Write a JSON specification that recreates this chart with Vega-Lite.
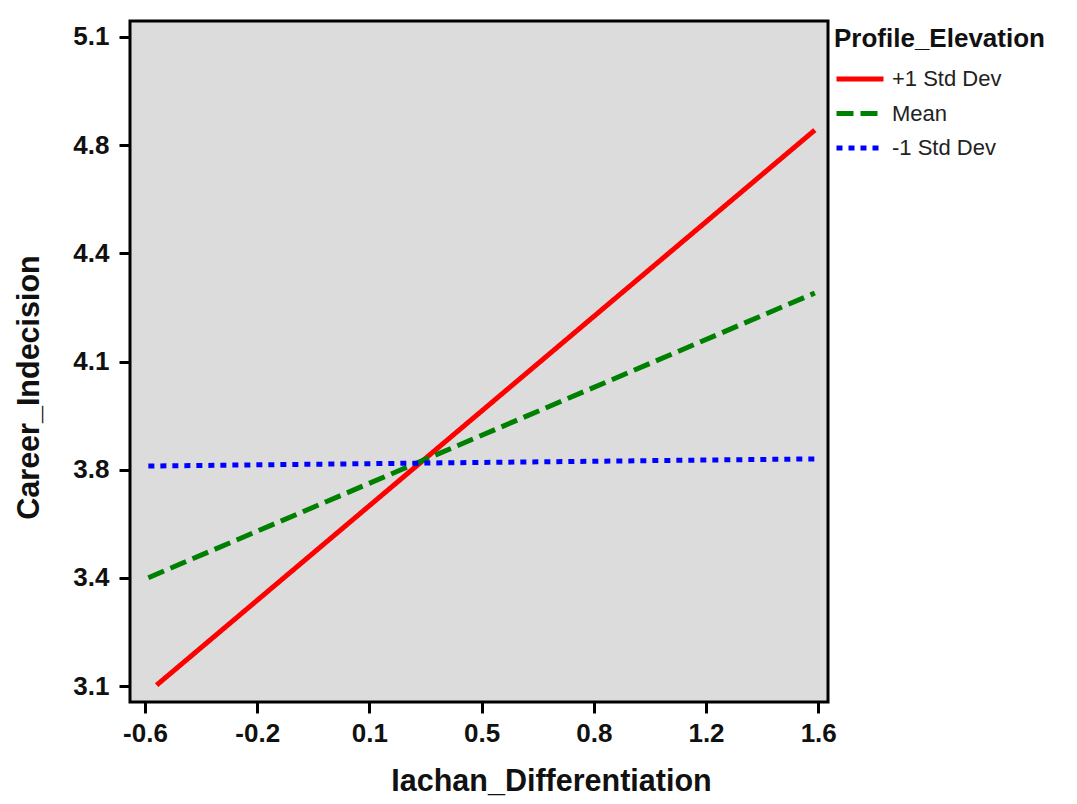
{
  "$schema": "https://vega.github.io/schema/vega-lite/v6.json",
  "autosize": {"type": "none"},
  "width": 698,
  "height": 681,
  "padding": {"left": 130, "top": 21, "right": 249, "bottom": 102},
  "background": "white",
  "config": {
    "font": "Liberation Sans",
    "view": {"fill": "#DCDCDC", "stroke": "black", "strokeWidth": 3},
    "axis": {
      "grid": false,
      "domain": false,
      "tickColor": "black",
      "tickWidth": 3,
      "tickSize": 11,
      "labelFont": "Liberation Sans",
      "labelFontWeight": "bold",
      "labelFontSize": 26,
      "labelColor": "#111111",
      "titleFont": "Liberation Sans",
      "titleFontWeight": "bold",
      "titleFontSize": 30.5,
      "titleColor": "#111111"
    }
  },
  "data": {
    "values": [
      {"x": -0.562, "y": 3.103, "group": "+1 Std Dev"},
      {"x": 1.589, "y": 4.813, "group": "+1 Std Dev"},
      {"x": -0.589, "y": 3.434, "group": "Mean"},
      {"x": 1.589, "y": 4.311, "group": "Mean"},
      {"x": -0.589, "y": 3.778, "group": "-1 Std Dev"},
      {"x": 1.589, "y": 3.8, "group": "-1 Std Dev"}
    ]
  },
  "mark": {"type": "line", "strokeWidth": 5, "strokeCap": "butt", "clip": true},
  "encoding": {
    "x": {
      "field": "x",
      "type": "quantitative",
      "scale": {"domain": [-0.649, 1.632], "nice": false, "zero": false},
      "axis": {
        "title": "Iachan_Differentiation",
        "values": [-0.6, -0.23333, 0.13333, 0.5, 0.86667, 1.23333, 1.6],
        "labelExpr": "datum.value < -0.5 ? '-0.6' : datum.value < 0 ? '-0.2' : datum.value < 0.2 ? '0.1' : datum.value < 0.6 ? '0.5' : datum.value < 1 ? '0.8' : datum.value < 1.4 ? '1.2' : '1.6'",
        "labelPadding": 7,
        "titleX": 421,
        "titleY": 88,
        "titleBaseline": "alphabetic"
      }
    },
    "y": {
      "field": "y",
      "type": "quantitative",
      "scale": {"domain": [3.051, 5.149], "nice": false, "zero": false},
      "axis": {
        "title": "Career_Indecision",
        "values": [3.1, 3.43333, 3.76667, 4.1, 4.43333, 4.76667, 5.1],
        "labelExpr": "format(datum.value, '.1f')",
        "labelPadding": 10,
        "titleX": -92,
        "titleY": 366,
        "titleBaseline": "alphabetic",
        "titleAlign": "center"
      }
    },
    "color": {
      "field": "group",
      "type": "nominal",
      "scale": {"domain": ["+1 Std Dev", "Mean", "-1 Std Dev"], "range": ["#FF0000", "#008000", "#0000FF"]},
      "legend": {
        "title": "Profile_Elevation",
        "orient": "right",
        "offset": 1,
        "padding": 5,
        "titleFont": "Liberation Sans",
        "titleFontWeight": "bold",
        "titleFontSize": 26,
        "titleLimit": 400,
        "titleColor": "#111111",
        "titlePadding": 16,
        "labelFont": "Liberation Sans",
        "labelFontSize": 22,
        "labelLimit": 300,
        "labelColor": "#222222",
        "labelOffset": 6,
        "symbolType": "stroke",
        "symbolSize": 2209,
        "symbolStrokeWidth": 5,
        "clipHeight": 22,
        "rowPadding": 12.5
      }
    },
    "strokeDash": {
      "field": "group",
      "type": "nominal",
      "scale": {"domain": ["+1 Std Dev", "Mean", "-1 Std Dev"], "range": [[1, 0], [17, 7], [6, 6]]},
      "legend": null
    }
  }
}
